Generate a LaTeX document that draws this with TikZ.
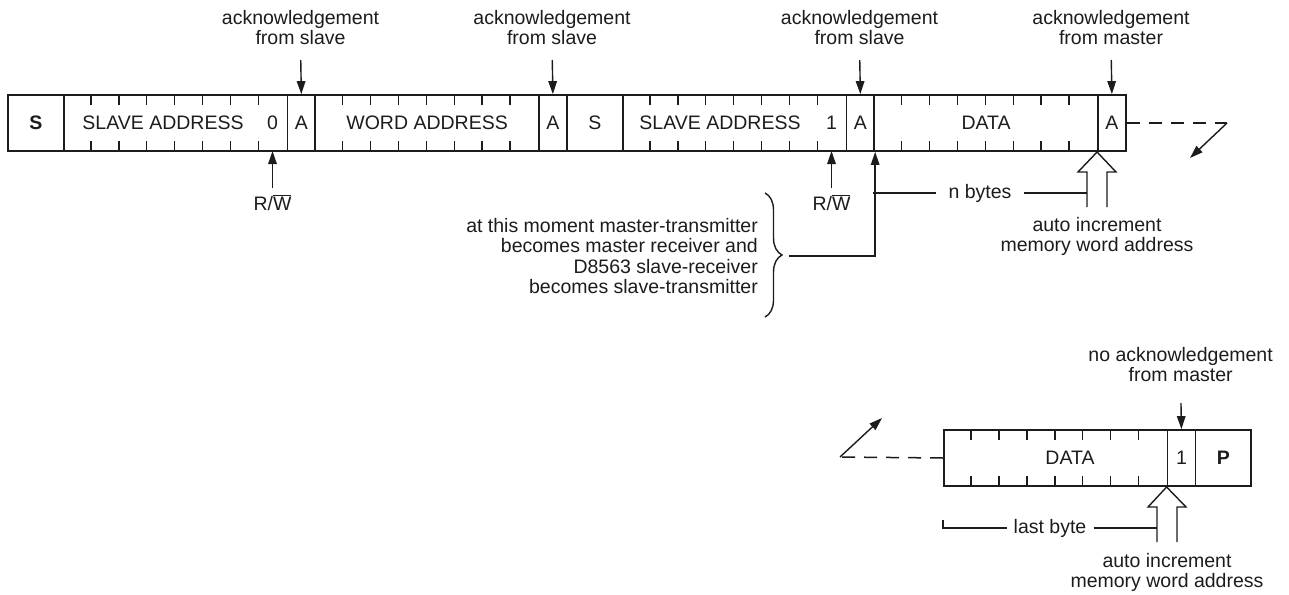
\documentclass[tikz,border=0pt]{standalone}
\usepackage{fontspec}
\setmainfont{Liberation Sans}
\usetikzlibrary{arrows.meta,decorations.pathreplacing}
\definecolor{ink}{HTML}{1C1C1C}
\begin{document}
\begin{tikzpicture}[x=1pt,y=-1pt,
  font=\fontsize{19.5}{20.5}\selectfont,
  cell/.style={draw=ink, line width=1.7pt, minimum height=56pt, inner sep=0pt, anchor=west, text=ink},
  lbl/.style={text=ink, inner sep=0pt, align=center},
  tick/.style={draw=ink, line width=1.4pt},
  tip/.style={draw=ink, line width=1.4pt, -{Triangle[length=13pt,width=8.5pt]}},
  dashline/.style={draw=ink, line width=1.5pt, dash pattern=on 13pt off 9pt},
  hollow/.style={draw=ink, line width=1.4pt, line join=miter},
  bracestyle/.style={draw=ink, line width=1.4pt, decorate, decoration={brace, amplitude=17pt}}]
\useasboundingbox (0,0) rectangle (1289,594);

% ---------- top frame ----------
\node[cell, minimum width=55.9pt]  (S1)  at (7,123)      {\bfseries S};
\node[cell, minimum width=223.6pt] (SA1) at (62.9,123)   {};
\node[cell, minimum width=27.95pt] (A1)  at (286.5,123)  {A};
\node[cell, minimum width=223.6pt] (WA)  at (314.45,123) {WORD ADDRESS};
\node[cell, minimum width=27.95pt] (A2)  at (538.05,123) {A};
\node[cell, minimum width=55.9pt]  (S2)  at (566,123)    {S};
\node[cell, minimum width=223.6pt] (SA2) at (621.9,123)  {};
\node[cell, minimum width=27.95pt] (A3)  at (845.5,123)  {A};
\node[cell, minimum width=223.6pt] (D1)  at (873.45,123) {DATA};
\node[cell, minimum width=27.95pt] (A4)  at (1097.05,123) {A};

\node[lbl] (SA1t) at (163,123) {SLAVE ADDRESS};
\node[lbl] (RW1b) at (272.5,123) {0};
\node[lbl] (SA2t) at (720,123) {SLAVE ADDRESS};
\node[lbl] (RW2b) at (831.5,123) {1};

\foreach \xs in {62.9,314.45,621.9,873.45}
  \foreach \i in {1,...,7} {
    \draw[tick] ({\xs+\i*27.95},95) -- ++(0,10);
    \draw[tick] ({\xs+\i*27.95},151) -- ++(0,-10);
  }

% acknowledgement labels
\node[lbl, anchor=south] (ack1) at (300.5,45) {acknowledgement\\from slave};
\node[lbl, anchor=south] (ack2) at (552,45) {acknowledgement\\from slave};
\node[lbl, anchor=south] (ack3) at (859.5,45) {acknowledgement\\from slave};
\node[lbl, anchor=south] (ack4) at (1111,45) {acknowledgement\\from master};
\draw[tip, shorten <=15pt] (ack1.south) -- (A1.north);
\draw[tip, shorten <=15pt] (ack2.south) -- (A2.north);
\draw[tip, shorten <=15pt] (ack3.south) -- (A3.north);
\draw[tip, shorten <=15pt] (ack4.south) -- (A4.north);

% R/W
\node[lbl, anchor=base] (rw1) at (272.5,210) {R/$\overline{\hbox{W}}$};
\node[lbl, anchor=base] (rw2) at (831.5,210) {R/$\overline{\hbox{W}}$};
\coordinate (rb1) at (272.5,151);
\coordinate (rb2) at (831.5,151);
\draw[tip, shorten <=6pt] (rw1.north) -- (rb1);
\draw[tip, shorten <=6pt] (rw2.north) -- (rb2);

% brace note
\node[lbl, align=right, anchor=east] (note) at (758,256)
  {at this moment master-transmitter\\becomes master receiver and\\D8563 slave-receiver\\becomes slave-transmitter};
\draw[bracestyle] (765,193) -- (765,317);
\coordinate (bt) at (789,256);
\draw[tip] (bt) -| (A3.south east);

% n bytes
\node[lbl, inner xsep=12pt] (nb) at (980,193) {n bytes};
\coordinate (nbL) at (873.45,193);
\coordinate (h1L) at (1087,193);
\draw[tick] (nbL) -- (nb.west);
\draw[tick] (nb.east) -- (h1L);

% hollow arrow 1
\coordinate (h1tip) at (1097.05,152);
\draw[hollow] (1087,207) -- (1087,172) -- (1078,172) -- (h1tip) -- (1116,172) -- (1107,172) -- (1107,207);
\node[lbl, anchor=north] (inc1) at (1097,217) {auto increment\\memory word address};

% continuation
\coordinate (d1) at (1227,123);
\coordinate (d1t) at (1190,158);
\draw[dashline] (A4.east) -- (d1);
\draw[tip] (d1) -- (d1t);

% ---------- bottom frame ----------
\node[cell, minimum width=223.6pt] (D2) at (943,458) {};
\node[lbl] (D2t) at (1070,458) {DATA};
\node[cell, minimum width=27.95pt] (N1) at (1166.6,458) {1};
\node[cell, minimum width=55.9pt]  (P1) at (1194.55,458) {\bfseries P};
\foreach \i in {1,...,7} {
  \draw[tick] ({943+\i*27.95},430) -- ++(0,10);
  \draw[tick] ({943+\i*27.95},486) -- ++(0,-10);
}
\node[lbl, anchor=south] (nack) at (1180.6,382) {no acknowledgement\\from master};
\draw[tip, shorten <=21pt] (nack.south) -- (N1.north);

\coordinate (d2) at (840,457);
\coordinate (d2t) at (882,418);
\draw[dashline] (D2.west) -- (d2);
\draw[tip] (d2) -- (d2t);

\coordinate (h2tip) at (1166.6,487);
\draw[hollow] (1157,542) -- (1157,507) -- (1148,507) -- (h2tip) -- (1186,507) -- (1177,507) -- (1177,542);
\node[lbl, anchor=north] (inc2) at (1167,553) {auto increment\\memory word address};

\node[lbl, inner xsep=7pt] (lb) at (1050,528) {last byte};
\coordinate (lbL) at (943,520);
\coordinate (h2L) at (1157,528);
\draw[tick] (lbL) |- (lb.west);
\draw[tick] (lb.east) -- (h2L);
\end{tikzpicture}
\end{document}
